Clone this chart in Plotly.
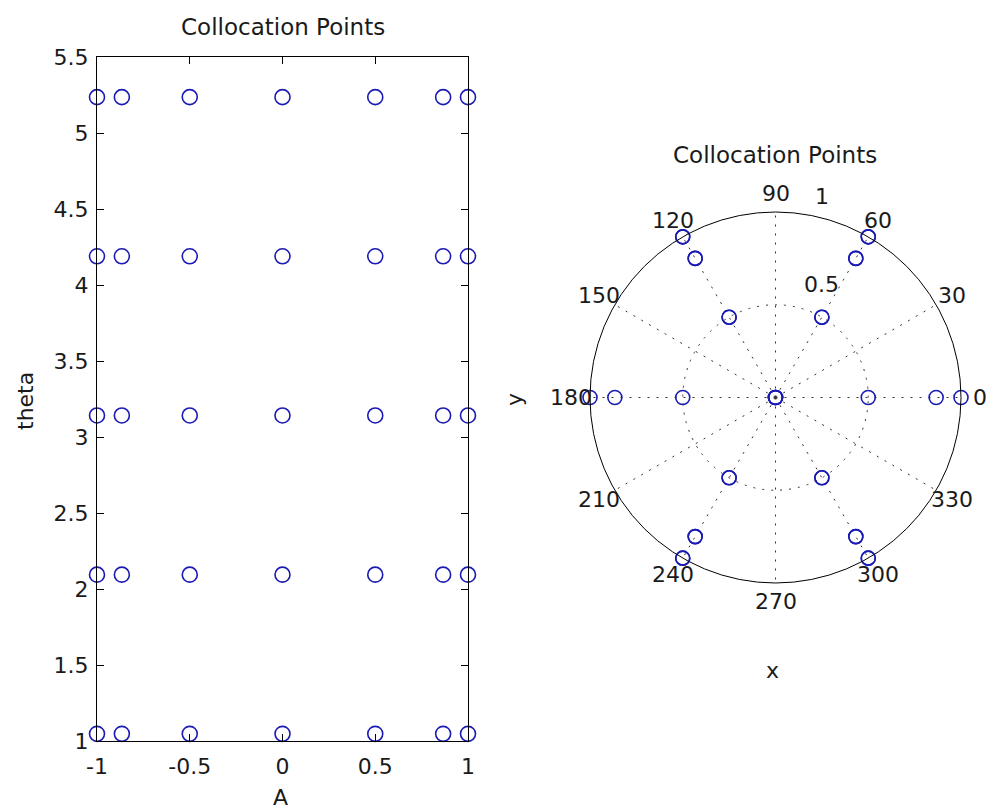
import math
import plotly.graph_objects as go

# ---- data ----
A_vals = [-1.0, -0.866, -0.5, 0.0, 0.5, 0.866, 1.0]
theta_vals = [1.0472, 2.0944, 3.1416, 4.1888, 5.2360]
x_ticks = [-1, -0.5, 0, 0.5, 1]
x_tick_text = ["-1", "-0.5", "0", "0.5", "1"]
y_ticks = [1, 1.5, 2, 2.5, 3, 3.5, 4, 4.5, 5, 5.5]
y_tick_text = ["1", "1.5", "2", "2.5", "3", "3.5", "4", "4.5", "5", "5.5"]
angle_labels = [0, 30, 60, 90, 120, 150, 180, 210, 240, 270, 300, 330]
radial_labels = ["0.5", "1"]

W, H = 987, 812
FONT = "DejaVu Sans"
FS = 22
BLUE = "#1a1ab4"
TXT = "#1a1a1a"

# polar geometry (pixels)
CX, CY, R = 775.5, 397.5, 185.5

# grid of points
xs, ys = [], []
for t in theta_vals:
    for a in A_vals:
        xs.append(a)
        ys.append(t)

# polar(theta, A): negative radius reflects through origin
pr, pt = [], []
for t in theta_vals:
    for a in A_vals:
        pr.append(abs(a))
        pt.append(t + (math.pi if a < 0 else 0.0))

fig = go.Figure()

fig.add_trace(go.Scatter(
    x=xs, y=ys, mode="markers",
    marker=dict(symbol="circle-open", size=15, color=BLUE, line=dict(width=1.6, color=BLUE)),
    cliponaxis=False, showlegend=False, hoverinfo="skip",
))

fig.add_trace(go.Scatterpolar(
    r=pr, theta=pt, thetaunit="radians", mode="markers",
    marker=dict(symbol="circle-open", size=14, color=BLUE, line=dict(width=1.6, color=BLUE)),
    cliponaxis=False, showlegend=False, hoverinfo="skip", subplot="polar",
))

axis_common = dict(
    showgrid=False, zeroline=False, showline=True, linecolor="black", linewidth=1,
    mirror="ticks", ticks="inside", ticklen=7, tickcolor="black", tickwidth=1,
    tickfont=dict(family=FONT, size=FS, color=TXT), automargin=False,
)

annotations = [
    dict(text="Collocation Points", x=282.5 / W, y=1 - 27 / H),
    dict(text="theta", x=25 / W, y=1 - 401 / H, textangle=-90),
    dict(text="A", x=280 / W, y=1 - 797 / H),
    dict(text="Collocation Points", x=775 / W, y=1 - 155 / H),
    dict(text="x", x=772 / W, y=1 - 670 / H),
    dict(text="y", x=514 / W, y=1 - 400 / H, textangle=-90),
]
# angular labels at 1.1 * rmax (MATLAB polar style)
for a in angle_labels:
    ang = math.radians(a)
    annotations.append(dict(text=str(a),
                            x=(CX + 1.1 * R * math.cos(ang)) / W,
                            y=1 - (CY - 1.1 * R * math.sin(ang)) / H))
# radial labels near the 80 degree ray
for lab, (px, py) in zip(radial_labels, [(821.5, 285), (822, 196)]):
    annotations.append(dict(text=lab, x=px / W, y=1 - py / H))

for ann in annotations:
    ann.update(xref="paper", yref="paper", showarrow=False, xanchor="center",
               yanchor="middle", font=dict(family=FONT, size=FS, color=TXT))
annotations[0]["font"]["size"] = FS + 1
annotations[3]["font"]["size"] = FS + 1

fig.update_layout(
    width=W, height=H,
    margin=dict(l=0, r=0, t=0, b=0, autoexpand=False),
    paper_bgcolor="white", plot_bgcolor="white",
    xaxis=dict(domain=[97 / W, 468 / W], range=[-1, 1], tickmode="array",
               tickvals=x_ticks, ticktext=x_tick_text, ticklabelstandoff=6, **axis_common),
    yaxis=dict(domain=[71 / H, 755 / H], range=[1, 5.5], tickmode="array",
               tickvals=y_ticks, ticktext=y_tick_text, ticklabelstandoff=3, **axis_common),
    polar=dict(
        domain=dict(x=[(CX - R) / W, (CX + R) / W], y=[(H - CY - R) / H, (H - CY + R) / H]),
        bgcolor="white",
        angularaxis=dict(
            rotation=0, direction="counterclockwise", tickmode="linear", tick0=0, dtick=30,
            showline=True, linecolor="black", linewidth=1, ticks="", showticklabels=False,
            showgrid=True, gridcolor="#333333", gridwidth=1.4, griddash="2px,7px",
        ),
        radialaxis=dict(
            range=[0, 1], tickmode="array", tickvals=[0.5, 1], showline=False, ticks="",
            showticklabels=False, showgrid=True, gridcolor="#333333", gridwidth=1.4,
            griddash="2px,7px",
        ),
    ),
    annotations=annotations,
)

fig.write_html("out.html")
